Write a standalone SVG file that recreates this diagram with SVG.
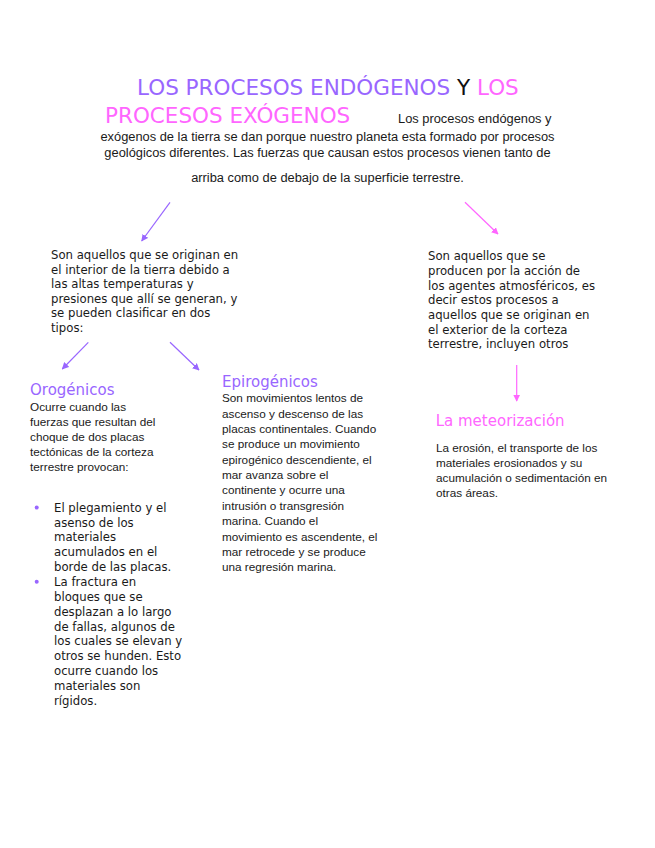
<svg xmlns="http://www.w3.org/2000/svg" width="655" height="848" viewBox="0 0 655 848">
<defs>
<marker id="ap" viewBox="0 0 10 10" refX="9" refY="5" markerWidth="7" markerHeight="7" markerUnits="userSpaceOnUse" orient="auto"><path d="M0,0 L10,5 L0,10 z" fill="#9966ff"/></marker>
<marker id="ak" viewBox="0 0 10 10" refX="9" refY="5" markerWidth="7" markerHeight="7" markerUnits="userSpaceOnUse" orient="auto"><path d="M0,0 L10,5 L0,10 z" fill="#ff66ff"/></marker>
<clipPath id="clipR"><rect x="420" y="240" width="200" height="116"/></clipPath>
</defs>
<style>
.ttl{font-family:"DejaVu Sans",sans-serif;font-size:21.5px}
.hd{font-family:"Liberation Sans",Arial,sans-serif;font-size:12.85px;fill:#1a1a1a}
.dv{font-family:"DejaVu Sans",sans-serif;font-size:11.7px;fill:#1a1a1a}
.lb{font-family:"Liberation Sans",Arial,sans-serif;font-size:11.75px;fill:#1a1a1a}
.sub{font-family:"DejaVu Sans",sans-serif;font-size:15px}
.pu{fill:#9966ff}
.pk{fill:#ff66ff}
.cp{stroke:#9966ff;stroke-width:1.2;fill:none}
.ck{stroke:#ff66ff;stroke-width:1.2;fill:none}
</style>
<rect width="655" height="848" fill="#ffffff"/>

<g id="title">
<text class="ttl" x="137" y="95"><tspan class="pu">LOS PROCESOS ENDÓGENOS</tspan><tspan fill="#111"> Y </tspan><tspan class="pk">LOS</tspan></text>
<text class="ttl pk" x="105" y="122.7">PROCESOS EXÓGENOS</text>
</g>

<g id="intro">
<text class="hd" x="398" y="123">Los procesos endógenos y</text>
<text class="hd" x="327.5" y="141" text-anchor="middle">exógenos de la tierra se dan porque nuestro planeta esta formado por procesos</text>
<text class="hd" x="327.5" y="157" text-anchor="middle">geológicos diferentes. Las fuerzas que causan estos procesos vienen tanto de</text>
<text class="hd" x="327.5" y="182" text-anchor="middle">arriba como de debajo de la superficie terrestre.</text>
</g>

<g id="connectors">
<line class="cp" x1="170" y1="202.3" x2="141.7" y2="241" marker-end="url(#ap)"/>
<line class="ck" x1="465" y1="202.3" x2="498" y2="234" marker-end="url(#ak)"/>
<line class="cp" x1="88.3" y1="342.3" x2="62.3" y2="369" marker-end="url(#ap)"/>
<line class="cp" x1="170" y1="342.3" x2="199" y2="370" marker-end="url(#ap)"/>
<line class="ck" x1="516.7" y1="365" x2="516.7" y2="401" marker-end="url(#ak)"/>
</g>

<g id="endogenos">
<text class="dv" x="51" y="259">Son aquellos que se originan en</text>
<text class="dv" x="51" y="273.6">el interior de la tierra debido a</text>
<text class="dv" x="51" y="288.2">las altas temperaturas y</text>
<text class="dv" x="51" y="302.8">presiones que allí se generan, y</text>
<text class="dv" x="51" y="317.4">se pueden clasificar en dos</text>
<text class="dv" x="51" y="332">tipos:</text>
</g>

<g id="exogenos" clip-path="url(#clipR)">
<text class="dv" x="428" y="260.3">Son aquellos que se</text>
<text class="dv" x="428" y="275">producen por la acción de</text>
<text class="dv" x="428" y="289.6">los agentes atmosféricos, es</text>
<text class="dv" x="428" y="304.3">decir estos procesos a</text>
<text class="dv" x="428" y="319">aquellos que se originan en</text>
<text class="dv" x="428" y="333.6">el exterior de la corteza</text>
<text class="dv" x="428" y="348.3">terrestre, incluyen otros</text>
</g>

<g id="orogenicos">
<text class="sub pu" x="30" y="395">Orogénicos</text>
<text class="lb" x="30" y="410.8">Ocurre cuando las</text>
<text class="lb" x="30" y="425.8">fuerzas que resultan del</text>
<text class="lb" x="30" y="440.8">choque de dos placas</text>
<text class="lb" x="30" y="455.8">tectónicas de la corteza</text>
<text class="lb" x="30" y="470.8">terrestre provocan:</text>
</g>

<g id="bullets">
<circle cx="36.7" cy="507.5" r="2" fill="#9966ff"/>
<circle cx="36.7" cy="581.7" r="2" fill="#9966ff"/>
<text class="dv" x="54" y="511.7">El plegamiento y el</text>
<text class="dv" x="54" y="526.55">asenso de los</text>
<text class="dv" x="54" y="541.4">materiales</text>
<text class="dv" x="54" y="556.25">acumulados en el</text>
<text class="dv" x="54" y="571.1">borde de las placas.</text>
<text class="dv" x="54" y="585.95">La fractura en</text>
<text class="dv" x="54" y="600.8">bloques que se</text>
<text class="dv" x="54" y="615.65">desplazan a lo largo</text>
<text class="dv" x="54" y="630.5">de fallas, algunos de</text>
<text class="dv" x="54" y="645.35">los cuales se elevan y</text>
<text class="dv" x="54" y="660.2">otros se hunden. Esto</text>
<text class="dv" x="54" y="675.05">ocurre cuando los</text>
<text class="dv" x="54" y="689.9">materiales son</text>
<text class="dv" x="54" y="704.75">rígidos.</text>
</g>

<g id="epirogenicos">
<text class="sub pu" x="222" y="386.7">Epirogénicos</text>
<text class="lb" x="222" y="402.3">Son movimientos lentos de</text>
<text class="lb" x="222" y="417.66">ascenso y descenso de las</text>
<text class="lb" x="222" y="433.02">placas continentales. Cuando</text>
<text class="lb" x="222" y="448.38">se produce un movimiento</text>
<text class="lb" x="222" y="463.74">epirogénico descendiente, el</text>
<text class="lb" x="222" y="479.1">mar avanza sobre el</text>
<text class="lb" x="222" y="494.46">continente y ocurre una</text>
<text class="lb" x="222" y="509.82">intrusión o transgresión</text>
<text class="lb" x="222" y="525.18">marina. Cuando el</text>
<text class="lb" x="222" y="540.54">movimiento es ascendente, el</text>
<text class="lb" x="222" y="555.9">mar retrocede y se produce</text>
<text class="lb" x="222" y="571.26">una regresión marina.</text>
</g>

<g id="meteorizacion">
<text class="sub pk" x="435.7" y="426">La meteorización</text>
<text class="lb" x="436" y="452">La erosión, el transporte de los</text>
<text class="lb" x="436" y="467">materiales erosionados y su</text>
<text class="lb" x="436" y="482">acumulación o sedimentación en</text>
<text class="lb" x="436" y="497">otras áreas.</text>
</g>
</svg>
